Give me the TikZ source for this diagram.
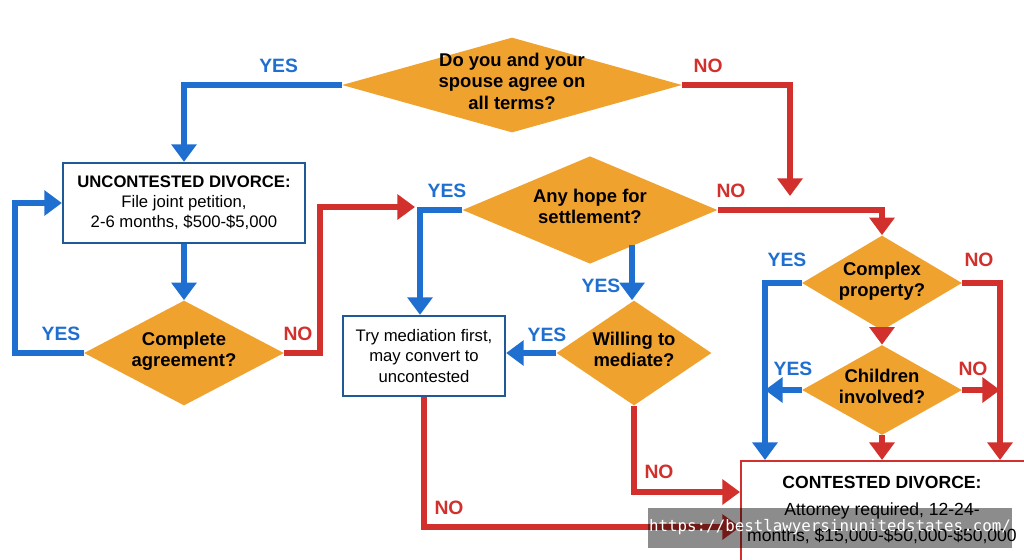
\documentclass[tikz,border=0pt]{standalone}
\usepackage{fontspec}
\setmainfont{Liberation Sans}
\setmonofont{DejaVu Sans Mono}
\usetikzlibrary{shapes.geometric,arrows.meta}
\definecolor{qorange}{HTML}{F0A22E}
\definecolor{yesblue}{HTML}{1F6FD1}
\definecolor{nored}{HTML}{D1302C}
\definecolor{boxblue}{HTML}{1F5A96}
\newcommand\qtext[1]{\makebox[0pt]{\smash{\raisebox{-2pt}{\begin{tabular}{@{}c@{}}#1\end{tabular}}}}}
\begin{document}
\begin{tikzpicture}[x=0.02cm,y=-0.02cm,
  question/.style={diamond,fill=qorange,inner sep=0pt,font=\bfseries\fontsize{10.5}{12}\selectfont},
  stepbox/.style={draw=boxblue,line width=1.3pt,fill=white,align=center,font=\fontsize{9.5}{11.5}\selectfont},
  yes/.style={yesblue,line width=3.8pt,-{Triangle[length=10pt,width=14pt]}},
  no/.style={nored,line width=3.8pt,-{Triangle[length=10pt,width=14pt]}},
  yestxt/.style={text=yesblue,font=\bfseries\fontsize{11}{12}\selectfont},
  notxt/.style={text=nored,font=\bfseries\fontsize{11}{12}\selectfont}]
  \useasboundingbox (0,0) rectangle (1024,559);
  \clip (0,0) rectangle (1024,559);
  % questions
  \node[question,minimum width=6.8cm,minimum height=1.9cm] (agree) at (512,85) {\qtext{Do you and your\\spouse agree on\\all terms?}};
  \node[question,minimum width=5.1cm,minimum height=2.15cm] (hope) at (590,210) {\qtext{Any hope for\\settlement?}};
  \node[question,minimum width=4cm,minimum height=2.1cm] (complete) at (184,353) {\qtext{Complete\\agreement?}};
  \node[question,minimum width=3.1cm,minimum height=2.1cm] (willing) at (634,353) {\qtext{Willing to\\mediate?}};
  \node[question,minimum width=3.2cm,minimum height=1.9cm] (property) at (882,283) {\qtext{Complex\\property?}};
  \node[question,minimum width=3.2cm,minimum height=1.8cm] (children) at (882,390) {\qtext{Children\\involved?}};
  % outcomes
  \node[stepbox,minimum width=4.84cm,minimum height=1.6cm] (uncontested) at (184,203)
    {\textbf{UNCONTESTED DIVORCE:}\\File joint petition,\\2-6 months, \$500-\$5,000};
  \node[stepbox,minimum width=3.24cm,minimum height=1.6cm] (mediation) at (424,356)
    {Try mediation first,\\may convert to\\uncontested};
  \node[stepbox,draw=nored,minimum width=6.2cm,minimum height=2.2cm,anchor=north west] (contested) at (740,460) {};
  \node[align=center,font=\fontsize{10}{15}\selectfont] (contxt) at (882,510)
    {\textbf{CONTESTED DIVORCE:}\\Attorney required, 12-24-\\months, \$15,000-\$50,000-\$50,000};
  % connectors
  \coordinate (noend) at (790,196);
  \coordinate (redend) at (415,207);
  \draw[yes] (agree.west) -| (uncontested.north) node[yestxt,pos=0.2,above=2pt] {YES};
  \draw[no] (agree.east) -| (noend) node[notxt,pos=0.12,above=2pt] {NO};
  \draw[yes] (uncontested) -- (complete);
  \draw[yes] (complete.west) -- (15,353) |- (uncontested.west);
  \node[yestxt] (yes2) at (61,334) {YES};
  \draw[no] (complete.east) -- (320,353) |- (redend);
  \node[notxt] (no2) at (298,334) {NO};
  \draw[yes] (hope.west) -- (420,210) -- (mediation.north -| 420,0);
  \node[yestxt] (yes3) at (447,191) {YES};
  \draw[no] (hope.east) -| (property.north);
  \node[notxt] (no3) at (731,191) {NO};
  \draw[yes] (632,245) -- (willing.north -| 632,0);
  \node[yestxt] (yes4) at (601,286) {YES};
  \draw[yes] (willing.west) -- (mediation.east |- willing.west);
  \node[yestxt] (yes5) at (547,335) {YES};
  \draw[no] (willing.south) |- (contested.west |- 0,492);
  \node[notxt] (no4) at (659,472) {NO};
  \draw[no] (mediation.south) |- (contested.west |- 0,527);
  \node[notxt] (no5) at (449,508) {NO};
  \draw[yes] (property.west) -- (765,283) -- (contested.north -| 765,0);
  \node[yestxt] (yes6) at (787,260) {YES};
  \draw[no] (property.east) -- (1000,283) -- (contested.north -| 1000,0);
  \node[notxt] (no6) at (979,260) {NO};
  \draw[no] (property.south) -- (children.north);
  \draw[yes] (children.west) -- (765,390);
  \node[yestxt] (yes7) at (793,369) {YES};
  \draw[no] (children.east) -- (1000,390);
  \node[notxt] (no7) at (973,369) {NO};
  \draw[no] (children.south) -- (contested.north -| children.south);
  % watermark
  \fill[black,opacity=0.45] (648,508) rectangle (1012,548);
  \node[text=white,font=\ttfamily\fontsize{9}{10}\selectfont] (mark) at (830,527) {https://bestlawyersinunitedstates.com/};
\end{tikzpicture}
\end{document}
